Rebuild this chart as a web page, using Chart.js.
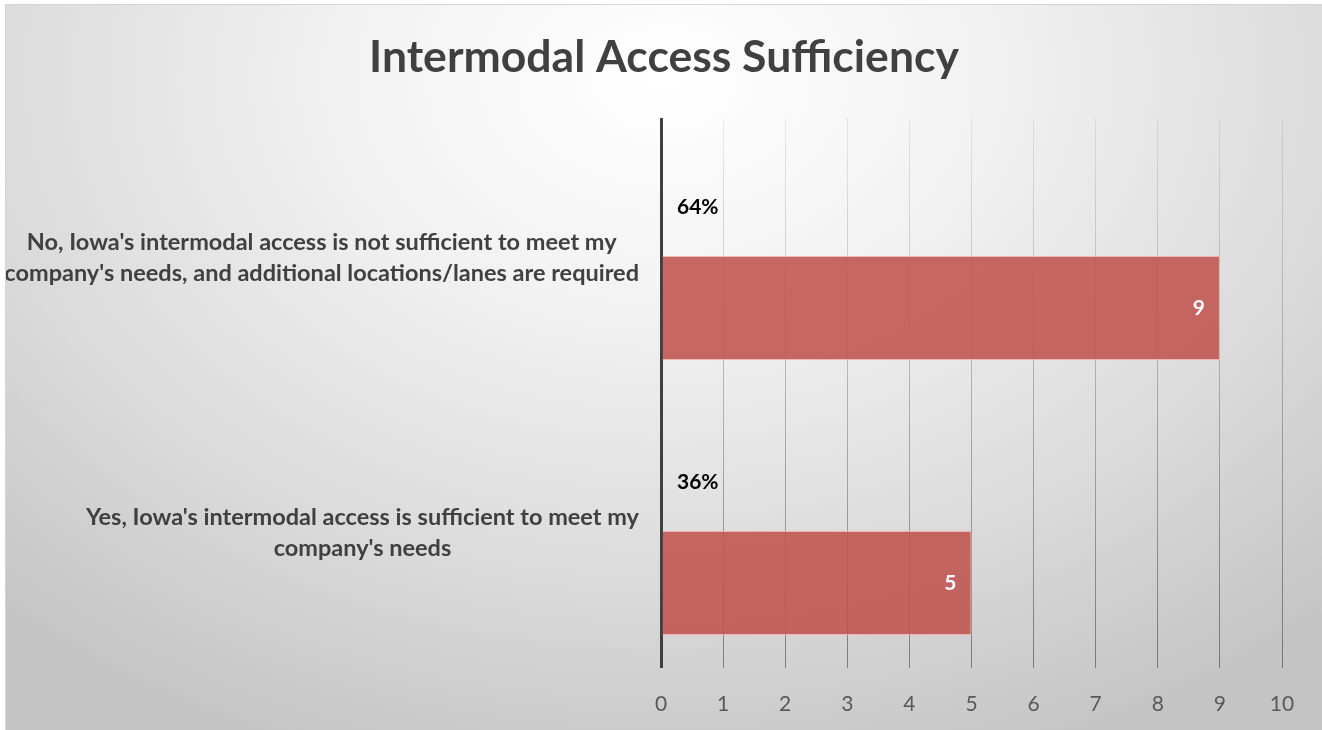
<!DOCTYPE html>
<html>
<head>
<meta charset="utf-8">
<script src="https://cdn.jsdelivr.net/npm/chart.js@4.4.1/dist/chart.umd.min.js"></script>
<style>
    html, body { margin: 0; padding: 0; background: #ffffff; overflow: hidden; }
    #box {
        position: absolute;
        left: 5px;
        top: 4px;
        width: 1317px;
        height: 730px;
        border: 1px solid #d4d4d4;
        background: radial-gradient(ellipse 75% 100% at 50% 10%, #ffffff 0%, #f3f3f3 30%, #dadada 70%, #c4c4c4 100%);
    }
    #chart { display: block; }
</style>
</head>
<body>
<div id="box"><canvas id="chart" width="1317" height="730"></canvas></div>
<script>
const chartTitle = 'Intermodal Access Sufficiency';
const categories = [
    ["No, Iowa's intermodal access is not sufficient to meet my", "company's needs, and additional locations/lanes are required"],
    ["Yes, Iowa's intermodal access is sufficient to meet my", "company's needs"]
];
const counts = [9, 5];
const shares = [0.64, 0.36];
const xMin = 0;
const xMax = 10;

const FONT = 'Lato, "Open Sans", sans-serif';

function gridColor(context) {
    if (context.tick && context.tick.value === 0) return '#404040';
    const area = context.chart.chartArea;
    if (!area) return 'rgba(0,0,0,0.25)';
    const g = context.chart.ctx.createLinearGradient(0, area.top, 0, area.bottom);
    g.addColorStop(0, 'rgba(0,0,0,0.07)');
    g.addColorStop(1, 'rgba(0,0,0,0.4)');
    return g;
}

// title centred on the whole canvas, not just the plot
const titleText = {
    id: 'titleText',
    afterDraw(chart) {
        const ctx = chart.ctx;
        ctx.save();
        ctx.font = 'bold 44.5px ' + FONT;
        ctx.fillStyle = '#404040';
        ctx.textAlign = 'center';
        ctx.textBaseline = 'middle';
        ctx.fillText(chartTitle, 658, 53);
        ctx.restore();
    }
};

// category labels: block right-aligned, lines centred inside it
const categoryLabels = {
    id: 'categoryLabels',
    afterDraw(chart) {
        const ctx = chart.ctx;
        const y = chart.scales.y;
        ctx.save();
        ctx.font = 'bold 23.5px ' + FONT;
        ctx.fillStyle = '#404040';
        ctx.textAlign = 'center';
        ctx.textBaseline = 'middle';
        categories.forEach((lines, i) => {
            const cy = y.getPixelForValue(i) + 2;
            const w = Math.max(...lines.map(l => ctx.measureText(l).width));
            const cx = 633 - w / 2;
            const lh = 31;
            const top = cy - (lines.length - 1) * lh / 2;
            lines.forEach((l, j) => ctx.fillText(l, cx, top + j * lh));
        });
        ctx.restore();
    }
};

const barLabels = {
    id: 'barLabels',
    afterDatasetsDraw(chart) {
        const ctx = chart.ctx;
        const x0 = chart.scales.x.getPixelForValue(0);
        ctx.save();
        ctx.textBaseline = 'middle';
        // share labels on the hidden series
        ctx.font = 'bold 21px ' + FONT;
        ctx.fillStyle = '#000000';
        ctx.textAlign = 'left';
        chart.getDatasetMeta(0).data.forEach((el, i) => {
            ctx.fillText(Math.round(shares[i] * 100) + '%', x0 + 16, el.y + 4);
        });
        // counts inside bar end
        ctx.fillStyle = '#ffffff';
        ctx.textAlign = 'right';
        chart.getDatasetMeta(1).data.forEach((el, i) => {
            ctx.fillText(String(counts[i]), el.x - 15, el.y);
        });
        ctx.restore();
    }
};

new Chart(document.getElementById('chart'), {
    type: 'bar',
    data: {
        labels: categories,
        datasets: [{
            label: 'Share',
            data: shares,
            backgroundColor: 'rgba(0,0,0,0)',
            borderWidth: 0,
            categoryPercentage: 0.764,
            barPercentage: 0.99
        }, {
            label: 'Responses',
            data: counts,
            backgroundColor: 'rgba(192,80,77,0.86)',
            borderColor: 'rgba(236,176,174,0.9)',
            borderWidth: 1,
            categoryPercentage: 0.764,
            barPercentage: 0.99
        }]
    },
    options: {
        indexAxis: 'y',
        responsive: false,
        animation: false,
        layout: {
            padding: { left: 655, right: 41, top: 113, bottom: 21 }
        },
        plugins: {
            legend: { display: false },
            tooltip: { enabled: false },
            title: { display: false }
        },
        scales: {
            x: {
                min: xMin,
                max: xMax,
                afterFit: scale => { scale.height = 46; },
                ticks: {
                    stepSize: 1,
                    color: '#595959',
                    padding: 24,
                    font: { family: FONT, size: 21 }
                },
                grid: {
                    drawTicks: false,
                    color: gridColor,
                    lineWidth: ctx => (ctx.tick && ctx.tick.value === 0 ? 3 : 1)
                },
                border: { display: false }
            },
            y: {
                display: false
            }
        }
    },
    plugins: [titleText, categoryLabels, barLabels]
});
</script>
</body>
</html>
